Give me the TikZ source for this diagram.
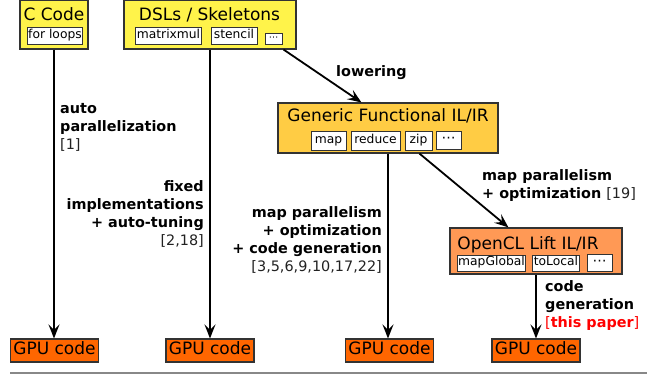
\documentclass[tikz,border=0pt]{standalone}
\usepackage{fontspec}
\setmainfont{DejaVu Sans}
\usetikzlibrary{arrows.meta}
\definecolor{ylw}{RGB}{255,243,74}
\definecolor{gold}{RGB}{255,204,68}
\definecolor{lorange}{RGB}{255,153,85}
\definecolor{gpuor}{RGB}{255,102,0}
\definecolor{bord}{RGB}{51,51,51}
\definecolor{cite}{RGB}{34,34,34}
\definecolor{rulegray}{RGB}{136,136,136}
\tikzset{
  stagebox/.style={draw=bord, line width=1.1pt, rectangle, inner sep=0pt},
  stagetitle/.style={inner sep=0pt, anchor=base, font=\fontsize{17}{17}\selectfont},
  tag/.style={draw=bord, fill=white, line width=0.9pt, rectangle, inner xsep=1pt, inner ysep=0pt,
     font=\fontsize{12.3}{12.3}\selectfont, text height=8.5pt, text depth=2.5pt},
  dotsfont/.style={font=\fontsize{14}{14}\selectfont},
  gpubox/.style={stagebox, fill=gpuor, minimum width=88pt, minimum height=23pt,
     font=\fontsize{17}{17}\selectfont, text height=12.5pt, text depth=3.5pt},
  lbl/.style={inner sep=0pt, font=\fontsize{14.4}{18}\selectfont\bfseries},
  flow/.style={line width=1.8pt, -{Stealth[length=14pt,width=11pt,inset=5.5pt]}},
}
\newcommand{\ct}[1]{{\mdseries\color{cite}#1}}
\begin{document}
\begin{tikzpicture}[x=1pt,y=-1pt]
\useasboundingbox (0,0) rectangle (654,374);

% stage boxes
\node[stagebox, fill=ylw, minimum width=68pt, minimum height=49pt] (ccode) at (54,24.5) {};
\node[stagetitle] (ccodet) at (54,21) {C Code};
\node[tag, minimum width=54pt, minimum height=17pt] (forloops) at (55,35.5) {for loops};

\node[stagebox, fill=ylw, minimum width=172pt, minimum height=49pt] (dsl) at (210,24.5) {};
\node[stagetitle] (dslt) at (209.5,21) {DSLs / Skeletons};
\node[tag, minimum width=65pt, minimum height=17pt] (matrixmul) at (168.5,35.5) {matrixmul};
\node[tag, minimum width=46pt, minimum height=17pt] (stencil) at (234,35.5) {stencil};
\node[tag, minimum width=17pt, minimum height=11pt, font=\fontsize{9.5}{9.5}\selectfont, text height=5pt, text depth=1pt] (dsldots) at (273.5,38.5) {⋯};

\node[stagebox, fill=gold, minimum width=220pt, minimum height=50pt] (gen) at (388,128) {};
\node[stagetitle] (gent) at (388,122) {Generic Functional IL/IR};
\node[tag, minimum width=35pt, minimum height=19pt] (map) at (328.5,140.5) {map};
\node[tag, minimum width=49pt, minimum height=19pt] (reduce) at (375.5,140.5) {reduce};
\node[tag, minimum width=27pt, minimum height=19pt] (zip) at (418.5,140.5) {zip};
\node[tag, dotsfont, minimum width=25pt, minimum height=18pt] (gendots) at (448.5,140) {⋯};

\node[stagebox, fill=lorange, minimum width=172pt, minimum height=46pt] (ocl) at (536,251) {};
\node[stagetitle] (oclt) at (528,250) {OpenCL Lift IL/IR};
\node[tag, minimum width=67pt, minimum height=16pt] (mapglobal) at (491.5,263) {mapGlobal};
\node[tag, minimum width=46pt, minimum height=16pt] (tolocal) at (556,263) {toLocal};
\node[tag, dotsfont, minimum width=25pt, minimum height=17pt] (ocldots) at (599.5,262.5) {⋯};

% GPU code boxes
\node[gpubox] (gpu1) at (54.5,350.5) {GPU code};
\node[gpubox] (gpu2) at (210,350.5) {GPU code};
\node[gpubox] (gpu3) at (389.5,350.5) {GPU code};
\node[gpubox] (gpu4) at (536,350.5) {GPU code};

% connectors
\draw[flow] (ccode.south) -- (ccode.south |- gpu1.north);
\draw[flow] (dsl.south) -- (dsl.south |- gpu2.north);
\draw[flow] (gen.south) -- (gen.south |- gpu3.north);
\draw[flow] (ocl.south) -- (ocl.south |- gpu4.north);
\draw[flow] ([xshift=-13pt]dsl.south east) -- ([xshift=84pt]gen.north west);
\draw[flow] ([xshift=142pt]gen.south west) -- ([xshift=59pt]ocl.north west);

% labels
\node[lbl, anchor=west, align=left] (l1) at (60,127) {auto\\parallelization\\\ct{[1]}};
\node[lbl, anchor=east, align=right] (l2) at (204,213.5) {fixed\\implementations\\+ auto-tuning\\\ct{[2,18]}};
\node[lbl, anchor=east, align=right] (l3) at (382,239.5) {map parallelism\\+ optimization\\+ code generation\\\ct{[3,5,6,9,10,17,22]}};
\node[lbl, anchor=west, align=left] (l4) at (545,306) {code\\generation\\{\color{red}\mdseries[}{\color{red}this paper}{\color{red}\mdseries]}};
\node[lbl, anchor=west] (l5) at (336,73) {lowering};
\node[lbl, anchor=west, align=left] (l6) at (482,185.5) {map parallelism\\+ optimization \ct{[19]}};

% bottom rule
\coordinate (ruleL) at (10,373);
\coordinate (ruleR) at (647,373);
\draw[rulegray, line width=2pt] (ruleL) -- (ruleR);
\end{tikzpicture}
\end{document}
